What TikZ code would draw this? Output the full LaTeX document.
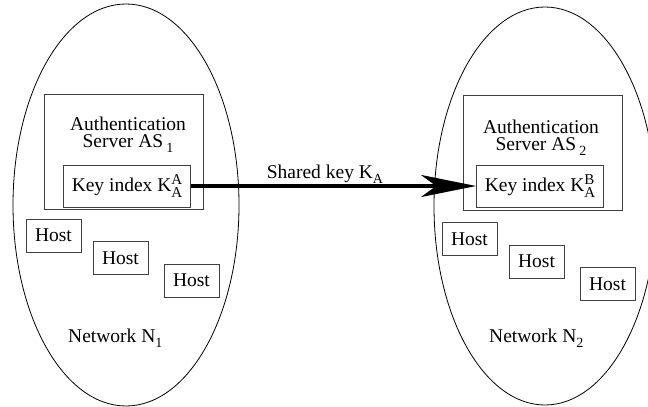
\documentclass[tikz,border=0pt]{standalone}
\usepackage{fontspec}
\setmainfont{Liberation Serif}
\usetikzlibrary{shapes.geometric,arrows.meta,positioning}

\newcommand{\lsub}[1]{\raisebox{-5pt}{\fontsize{14}{14}\selectfont #1}}
\newcommand{\kidx}[2]{K\raisebox{-6pt}{\fontsize{15}{12}\selectfont\shortstack[l]{#1\\#2}}}

\tikzset{
  net/.style={draw, ellipse, line width=0.8pt, inner sep=0pt},
  server/.style={draw=black!75, line width=0.8pt, inner sep=0pt,
    minimum width=159pt, minimum height=115pt},
  keybox/.style={draw=black!75, line width=0.8pt, inner sep=0pt,
    minimum width=127pt, minimum height=42pt},
  host/.style={draw=black!75, line width=0.8pt, inner sep=0pt,
    minimum width=55pt, minimum height=33pt},
  keyarrow/.style={line width=4pt, -{Stealth[length=55pt, width=22pt, inset=15pt]}}
}

\begin{document}
\begin{tikzpicture}[x=1pt, y=-1pt, font=\fontsize{19.5}{17}\selectfont]
  \useasboundingbox (0,0) rectangle (648,407);

  % network N1
  \node[net, minimum width=226pt, minimum height=402pt] (net1) at (126,205) {};
  \node[server] (as1) at (124,151.5) {};
  \node[align=center, inner sep=0pt] (as1t) at (128,135) {Authentication\\Server AS\,\lsub{1}};
  \node[keybox] (key1) at (127,186) {Key index \kidx{A}{A}};
  \node[host] (h11) at (53.5,235.5) {Host};
  \node[host] (h12) at (120.5,258) {Host};
  \node[host] (h13) at (191.5,280.5) {Host};
  \node[anchor=base west, inner sep=0pt] (n1) at (68,342) {Network N\lsub{1}};

  % network N2
  \node[net, minimum width=222pt, minimum height=398pt] (net2) at (545,206) {};
  \node[server] (as2) at (543,153) {};
  \node[align=center, inner sep=0pt] (as2t) at (541,138) {Authentication\\Server AS\,\lsub{2}};
  \node[keybox] (key2) at (540,186) {Key index \kidx{B}{A}};
  \node[host] (h21) at (469.5,239) {Host};
  \node[host] (h22) at (536.5,261.5) {Host};
  \node[host] (h23) at (607.5,284) {Host};
  \node[anchor=base west, inner sep=0pt] (n2) at (489,342) {Network N\lsub{2}};

  \draw[keyarrow] (key1) -- (key2)
    node[pos=0.47, anchor=base, yshift=8pt] (shared) {Shared key K\lsub{A}};
\end{tikzpicture}
\end{document}
